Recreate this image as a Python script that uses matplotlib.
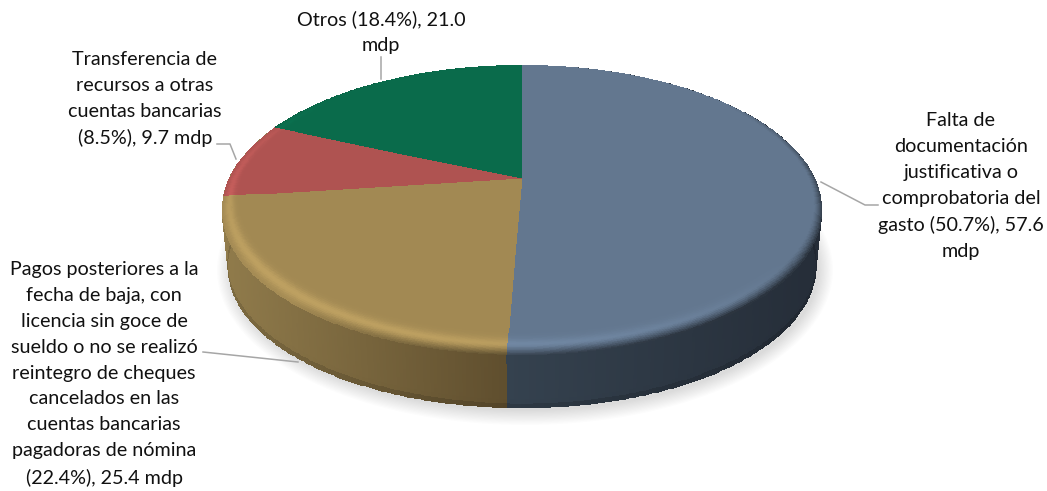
import numpy as np
import matplotlib.pyplot as plt
from matplotlib.colors import to_rgb

# Slices, clockwise from 12 o'clock (millones de pesos)
categories = ['Falta de documentación', 'Pagos posteriores', 'Transferencia', 'Otros']
values = [57.6, 25.4, 9.7, 21.0]

face_colors = ['#63778F', '#A28953', '#AF5351', '#0A6B4B']
wall_colors = [('#35424F', '#252D38'), ('#907B4B', '#5F4E2E'), ('#907B4B', '#907B4B'), ('#0A5A40', '#0A5A40')]
wall_ranges = [(508, 820), (225, 508), (225, 280), (270, 520)]

label_texts = [
    'Falta de\ndocumentación\njustificativa o\ncomprobatoria del\ngasto (50.7%), 57.6\nmdp',
    'Pagos posteriores a la\nfecha de baja, con\nlicencia sin goce de\nsueldo o no se realizó\nreintegro de cheques\n'
    'cancelados en las\ncuentas bancarias\npagadoras de nómina\n(22.4%), 25.4 mdp',
    'Transferencia de\nrecursos a otras\ncuentas bancarias\n(8.5%), 9.7 mdp',
    'Otros (18.4%), 21.0\nmdp',
]
label_pos = [(961, 186), (104, 374), (145, 99), (381, 32)]
leaders = [
    ([821, 865, 878], [182, 205, 205]),
    ([298, 203], [362, 352]),
    ([217, 230, 236], [144, 144, 159]),
    ([381, 381], [57, 79]),
]

# pie geometry in pixels: a disc seen in perspective
CX = 522
K = 0.2207


def project(theta, r, apex_y, a, c):
    u = r * np.sin(theta)
    v = r * np.cos(theta)
    w = 1 + K * v
    return CX + a * u / w, apex_y - c * v / w


def top_xy(theta, r):
    return project(theta, r, 178, 292.6, 137.9)


def bottom_xy(theta, r):
    return project(theta, r, 236, 286.8, 134.1)


plt.rcParams['font.family'] = ['Lato', 'DejaVu Sans']
fig = plt.figure(figsize=(10.47, 4.91), dpi=100)
ax = fig.add_axes([0, 0, 1, 1])
ax.set_xlim(0, 1047)
ax.set_ylim(491, 0)
ax.axis('off')

# soft shadow under the pie
t = np.linspace(0, 2 * np.pi, 200)
for grow in np.linspace(14, 0, 12):
    ax.fill(CX + 3 + (294 + grow) * np.cos(t), 270 + (141 + grow) * np.sin(t),
            color='black', alpha=0.012, lw=0)

edges = np.radians(np.concatenate([[0], np.cumsum(values)]) / np.sum(values) * 360)

# side walls
for i in range(len(values)):
    n = max(int((edges[i + 1] - edges[i]) * 100), 2)
    th = np.linspace(edges[i], edges[i + 1], n + 1)
    s = np.linspace(0, 1, 13)
    tx, ty = top_xy(th, 1.0)
    bx, by = bottom_xy(th, 1.0)
    X = np.outer(1 - s, tx) + np.outer(s, bx)
    Y = np.outer(1 - s, ty) + np.outer(s, by)
    xc = 0.25 * (X[:-1, :-1] + X[1:, :-1] + X[:-1, 1:] + X[1:, 1:])
    f = np.clip((xc - wall_ranges[i][0]) / (wall_ranges[i][1] - wall_ranges[i][0]), 0, 1)[..., None]
    rgb = (1 - f) * np.array(to_rgb(wall_colors[i][0])) + f * np.array(to_rgb(wall_colors[i][1]))
    sc = 0.5 * (s[:-1] + s[1:])
    rgb = rgb * (1 - 0.25 * np.clip((sc - 0.85) / 0.15, 0, 1) ** 2)[:, None, None]
    ax.pcolormesh(X, Y, rgb, shading='flat', zorder=2)

# top face with the soft bevel round the rim
radii = np.concatenate([[0, 0.5, 0.88], np.linspace(0.9, 1.0, 31)])
for i in range(len(values)):
    n = max(int((edges[i + 1] - edges[i]) * 120), 2)
    th = np.linspace(edges[i], edges[i + 1], n + 1)
    R, T = np.meshgrid(radii, th, indexing='ij')
    X, Y = top_xy(T, R)
    rc = 0.5 * (radii[:-1] + radii[1:])
    tc = 0.5 * (th[:-1] + th[1:])
    u, v = np.sin(tc), np.cos(tc)
    base = np.array(to_rgb(face_colors[i]))
    rgb = np.ones((len(rc), len(tc), 3)) * base
    # rim is narrow at the sides and wider at the front
    width = 0.028 + 0.04 * np.clip(-v, 0, 1)
    rn = (1 - rc)[:, None] / width[None, :]
    # light comes from the front left, the rim darkens towards the right
    light = np.clip(0.05 - 0.6 * u - 0.8 * v, 0, 1)
    hi = (np.exp(-((rn - 0.65) / 0.42) ** 2) * light[None, :] * 0.17)[..., None]
    dark_amt = np.clip(-0.1 + 0.75 * u - 0.8 * v, 0, 1)
    dk = (np.clip(1 - rn / 0.75, 0, 1) ** 1.5 * dark_amt[None, :] * 0.6)[..., None]
    rgb = rgb * (1 + hi)
    rgb = np.clip(rgb * (1 - dk), 0, 1)
    ax.pcolormesh(X, Y, rgb, shading='flat', zorder=3)

# labels and leader lines
for text, (x, y) in zip(label_texts, label_pos):
    ax.text(x, y, text, ha='center', va='center', fontsize=14.2, color='#111111',
            linespacing=1.63, zorder=5)
for xs, ys in leaders:
    ax.plot(xs, ys, color='#A6A6A6', lw=1.1, zorder=4)

plt.savefig('out.png', dpi=100)
